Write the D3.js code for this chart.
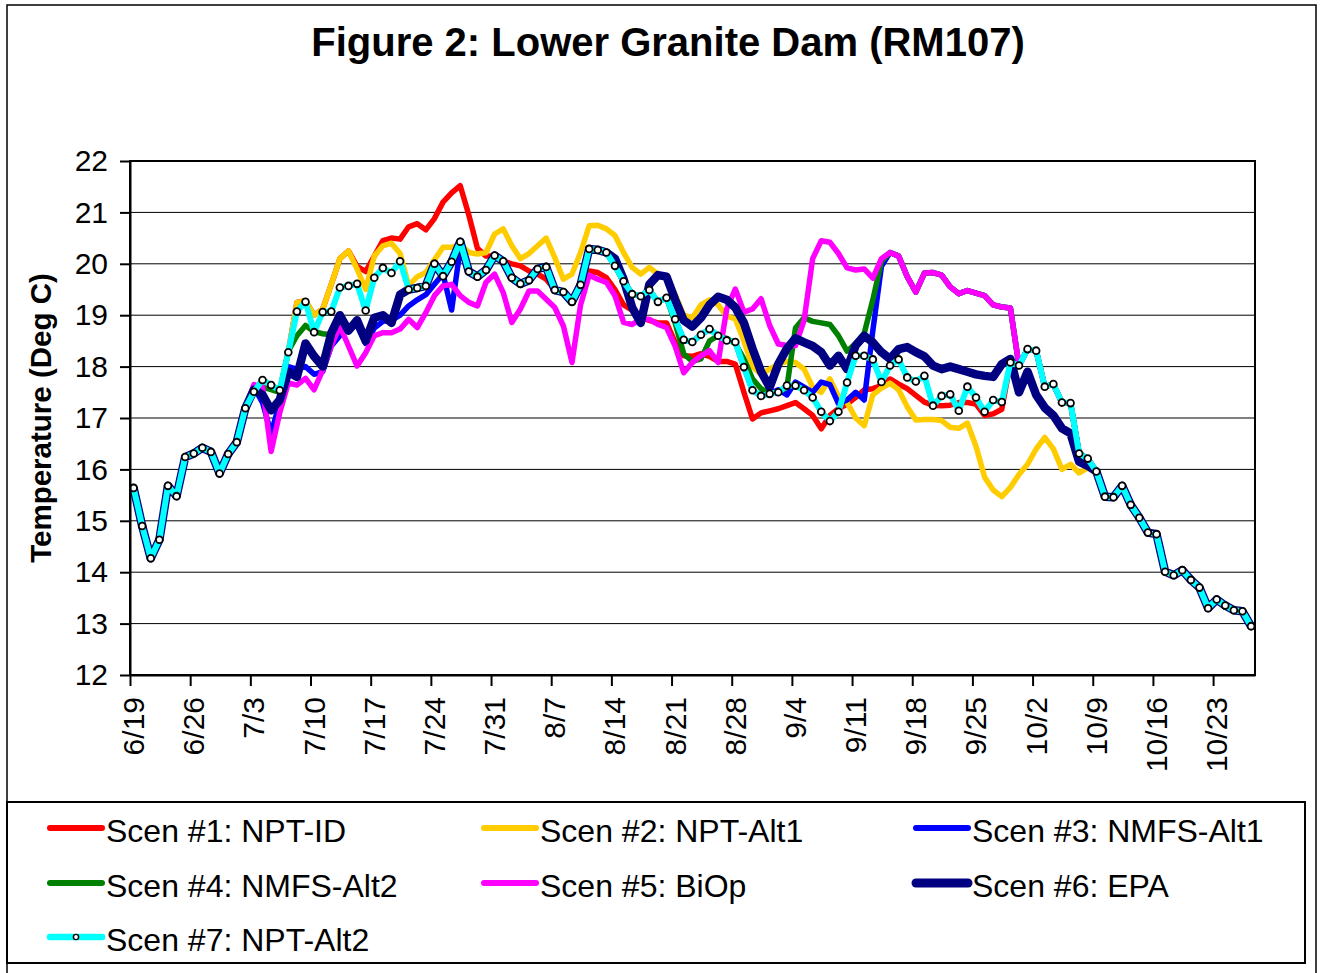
<!DOCTYPE html>
<html>
<head>
<meta charset="utf-8">
<title>Figure 2: Lower Granite Dam (RM107)</title>
<script src="https://cdn.jsdelivr.net/npm/d3@7"></script>
<style>
  body { margin: 0; background: #fff; }
  text { font-family: "Liberation Sans", Arial, sans-serif; fill: #000; }
</style>
</head>
<body>
<div id="chart"></div>
<script>
// x axis: one tick a week
var tickLabels = ["6/19","6/26","7/3","7/10","7/17","7/24","7/31","8/7","8/14","8/21",
                  "8/28","9/4","9/11","9/18","9/25","10/2","10/9","10/16","10/23"];
var yTicks = [12,13,14,15,16,17,18,19,20,21,22];

// daily temperature, deg C
// every run is the same 6/19 - 7/2 and 10/9 - 10/28
var sharedStart = [15.64,14.90,14.27,14.63,15.68,15.48,16.24,16.31,16.42,16.34,15.92,16.30,16.53,17.19];
var sharedEnd = [15.96,15.47,15.46,15.68,15.31,15.06,14.77,14.74,14.01,13.94,
                 14.04,13.85,13.70,13.30,13.47,13.35,13.26,13.24,12.95];

// 7/3 - 10/8 for each run
var scen1 = [17.51,17.74,17.64,17.54,18.28,19.25,19.28,19.00,19.12,19.60,
             20.10,20.25,19.95,19.85,20.15,20.45,20.50,20.48,20.72,20.78,
             20.66,20.88,21.20,21.38,21.52,20.95,20.30,20.15,20.15,20.05,
             20.00,19.96,19.86,19.80,19.70,19.50,19.42,19.28,19.55,19.86,
             19.83,19.73,19.50,19.20,19.10,18.95,18.90,18.85,18.85,18.47,
             18.21,18.20,18.25,18.20,18.10,18.10,18.05,17.50,16.98,17.10,
             17.14,17.18,17.24,17.30,17.18,17.05,16.79,17.05,17.18,17.27,
             17.40,17.55,17.57,17.63,17.76,17.66,17.57,17.44,17.31,17.25,
             17.24,17.25,17.30,17.30,17.27,17.05,17.08,17.17,18.08,18.02,
             18.34,18.31,17.61,17.66,17.30,17.29,16.31,16.21];
var scen2 = [17.51,17.74,17.64,17.54,18.28,19.25,19.28,19.00,19.12,19.60,
             20.10,20.25,19.90,19.50,20.15,20.35,20.40,20.20,19.58,19.75,
             19.83,20.08,20.32,20.32,20.38,20.22,20.19,20.22,20.58,20.68,
             20.35,20.10,20.20,20.35,20.50,20.12,19.70,19.80,20.22,20.74,
             20.75,20.68,20.55,20.22,19.93,19.80,19.93,19.80,19.75,19.40,
             19.00,18.95,19.20,19.30,19.20,18.98,18.93,18.50,18.00,17.85,
             17.95,18.05,18.10,18.08,17.95,17.60,17.50,17.76,17.42,17.30,
             17.00,16.85,17.45,17.58,17.68,17.55,17.22,16.96,16.97,16.97,
             16.95,16.82,16.80,16.90,16.45,15.85,15.60,15.47,15.65,15.90,
             16.10,16.40,16.62,16.40,16.00,16.10,15.93,16.03];
var scen3 = [17.60,17.30,16.70,17.30,18.00,17.95,18.00,17.85,17.90,18.40,
             18.60,18.75,18.80,18.45,18.75,18.88,18.90,19.00,19.18,19.30,
             19.40,19.60,19.80,19.10,20.30,19.85,19.75,19.88,20.16,20.05,
             19.73,19.61,19.68,19.90,19.94,19.49,19.45,19.26,19.59,20.29,
             20.27,20.22,19.96,19.66,19.41,19.37,19.49,19.26,19.34,18.92,
             18.52,18.48,18.62,18.73,18.60,18.51,18.48,17.99,17.54,17.43,
             17.47,17.55,17.45,17.70,17.60,17.50,17.70,17.65,17.28,17.35,
             17.50,17.35,18.70,19.95,20.22,20.15,19.75,19.45,19.82,19.83,
             19.78,19.55,19.42,19.48,19.43,19.38,19.20,19.16,19.14,18.02,
             18.34,18.31,17.61,17.66,17.30,17.29,16.31,16.21];
var scen4 = [17.55,17.60,17.55,17.50,18.30,18.60,18.80,18.68,18.64,18.62,
             19.00,18.70,18.90,18.50,18.95,19.00,18.85,19.40,19.50,19.53,
             19.57,20.00,19.76,20.04,20.43,19.85,19.75,19.88,20.16,20.05,
             19.73,19.61,19.68,19.90,19.94,19.49,19.45,19.26,19.59,20.29,
             20.27,20.22,19.96,19.66,19.41,19.37,19.49,19.26,19.34,18.85,
             18.25,18.10,18.15,18.50,18.60,18.55,18.45,18.15,17.76,17.57,
             17.47,17.50,17.60,18.75,18.95,18.88,18.85,18.82,18.60,18.30,
             18.45,18.65,19.30,20.05,20.22,20.15,19.75,19.45,19.82,19.83,
             19.78,19.55,19.42,19.48,19.43,19.38,19.20,19.16,19.14,18.02,
             18.34,18.31,17.61,17.66,17.30,17.29,16.31,16.21];
var scen5 = [17.65,17.60,16.35,17.10,17.68,17.64,17.77,17.55,17.93,18.40,
             18.79,18.40,18.01,18.27,18.60,18.66,18.66,18.73,18.92,18.76,
             19.05,19.38,19.57,19.60,19.38,19.25,19.18,19.64,19.80,19.44,
             18.86,19.12,19.47,19.47,19.31,19.15,18.79,18.08,19.20,19.78,
             19.70,19.64,19.38,18.86,18.82,18.92,18.92,18.82,18.76,18.40,
             17.88,18.08,18.21,18.31,18.08,19.12,19.51,19.06,19.12,19.32,
             18.80,18.44,18.41,18.41,18.90,20.10,20.45,20.42,20.20,19.92,
             19.88,19.90,19.72,20.10,20.22,20.15,19.75,19.45,19.82,19.83,
             19.78,19.55,19.42,19.48,19.43,19.38,19.20,19.16,19.14,18.02,
             18.34,18.31,17.61,17.66,17.30,17.29,16.31,16.21];
var scen6 = [17.55,17.45,17.15,17.35,17.90,17.80,18.45,18.20,18.00,18.65,
             19.00,18.70,18.90,18.50,18.95,19.00,18.85,19.40,19.50,19.53,
             19.57,20.00,19.76,20.04,20.43,19.85,19.75,19.88,20.16,20.05,
             19.73,19.61,19.68,19.90,19.94,19.49,19.45,19.26,19.59,20.29,
             20.27,20.22,20.10,19.70,19.15,18.85,19.60,19.78,19.75,19.30,
             18.90,18.78,18.95,19.20,19.36,19.30,19.15,18.85,18.35,17.90,
             17.60,18.05,18.35,18.55,18.47,18.40,18.28,18.02,18.21,17.95,
             18.41,18.60,18.47,18.28,18.15,18.34,18.38,18.28,18.20,18.02,
             17.95,18.00,17.95,17.90,17.85,17.82,17.80,18.05,18.15,17.50,
             17.90,17.45,17.20,17.05,16.80,16.70,16.15,16.07];
var scen7 = [17.51,17.74,17.64,17.54,18.28,19.07,19.26,18.67,19.06,19.07,
             19.54,19.57,19.61,19.09,19.73,19.92,19.82,20.05,19.50,19.53,
             19.57,20.00,19.76,20.04,20.43,19.85,19.75,19.88,20.16,20.05,
             19.73,19.61,19.68,19.90,19.94,19.49,19.45,19.26,19.59,20.29,
             20.27,20.22,19.96,19.66,19.41,19.37,19.49,19.26,19.34,18.92,
             18.52,18.48,18.62,18.73,18.60,18.51,18.48,17.99,17.54,17.43,
             17.47,17.50,17.63,17.63,17.54,17.40,17.12,16.94,17.12,17.69,
             18.21,18.21,18.14,17.70,18.02,18.14,17.79,17.71,17.82,17.24,
             17.43,17.46,17.14,17.61,17.40,17.12,17.35,17.31,18.08,18.02,
             18.34,18.31,17.61,17.66,17.30,17.29,16.31,16.21];

var seriesNames = ["Scen #1: NPT-ID","Scen #2: NPT-Alt1","Scen #3: NMFS-Alt1",
                   "Scen #4: NMFS-Alt2","Scen #5: BiOp","Scen #6: EPA","Scen #7: NPT-Alt2"];
var seriesMid = [scen1,scen2,scen3,scen4,scen5,scen6,scen7];

var colors = ["#ff0000","#ffcc00","#0000ff","#008000","#ff00ff","#000080","#00ffff"];
var widths = [5.5,5.5,5.5,5.5,5.5,8.5,6];

function init(){

    var w = 1320;
    var h = 973;
    var left = 130, right = 1255, top = 161, bottom = 675;

    var t0 = new Date(Date.UTC(2001,5,19));

    var x = d3.scaleUtc()
              .domain([t0, d3.utcHour.offset(t0, 3141)])
              .range([left, right]);

    var y = d3.scaleLinear()
              .domain([12,22])
              .range([bottom, top]);

    var tickDates = tickLabels.map(function(s){
        var p = s.split("/");
        return new Date(Date.UTC(2001, +p[0]-1, +p[1]));
    });

    // each reading plotted at 10:00 of its day
    var series = seriesMid.map(function(mid, k){
        var vals = sharedStart.concat(mid, sharedEnd);
        return {
            name: seriesNames[k],
            points: vals.map(function(v,i){
                return {date: d3.utcHour.offset(t0, i*24+10), value: v};
            })
        };
    });

    var svg = d3.select("#chart")
                .append("svg")
                .attr("width",w)
                .attr("height",h);

    svg.append("rect")
       .attr("width",w).attr("height",h)
       .attr("fill","#fff");

    // outer frame
    svg.append("rect")
       .attr("x",7).attr("y",5)
       .attr("width",1309).attr("height",990)
       .attr("fill","none")
       .attr("stroke","#000")
       .attr("stroke-width",1.5);

    svg.append("text")
       .attr("x",668).attr("y",56)
       .attr("text-anchor","middle")
       .attr("font-size",40)
       .attr("font-weight","bold")
       .text("Figure 2: Lower Granite Dam (RM107)");

    // grid
    svg.append("g")
       .selectAll("line")
       .data(yTicks)
       .enter()
       .append("line")
       .attr("x1",left).attr("x2",right)
       .attr("y1",function(d){ return y(d); })
       .attr("y2",function(d){ return y(d); })
       .attr("stroke","#000")
       .attr("stroke-width",1);

    var line = d3.line()
                 .x(function(d){ return x(d.date); })
                 .y(function(d){ return y(d.value); });

    var lines = svg.append("g");
    series.forEach(function(s,k){
        lines.append("path")
             .datum(s.points)
             .attr("fill","none")
             .attr("stroke",colors[k])
             .attr("stroke-width",widths[k])
             .attr("stroke-linejoin","round")
             .attr("stroke-linecap","round")
             .attr("d",line);
    });

    lines.selectAll("circle")
         .data(series[6].points)
         .enter()
         .append("circle")
         .attr("cx",function(d){ return x(d.date); })
         .attr("cy",function(d){ return y(d.value); })
         .attr("r",3.4)
         .attr("fill","#fff")
         .attr("stroke","#000")
         .attr("stroke-width",1.8);

    // plot border
    svg.append("rect")
       .attr("x",left).attr("y",top)
       .attr("width",right-left).attr("height",bottom-top)
       .attr("fill","none")
       .attr("stroke","#000")
       .attr("stroke-width",2);

    var yAxis = svg.append("g")
                   .attr("transform","translate("+left+",0)")
                   .call(d3.axisLeft(y).tickValues(yTicks).tickSize(10).tickSizeOuter(0).tickPadding(12));

    var xAxis = svg.append("g")
                   .attr("transform","translate(0,"+bottom+")")
                   .call(d3.axisBottom(x).tickValues(tickDates).tickSize(11).tickSizeOuter(0)
                          .tickFormat(function(d,i){ return tickLabels[i]; }));

    [yAxis,xAxis].forEach(function(g){
        g.attr("font-family",null).attr("font-size",null);
        g.select(".domain").attr("stroke-width",2);
        g.selectAll(".tick line").attr("stroke-width",2);
        g.selectAll("text").attr("font-size",30).attr("fill","#000");
    });

    xAxis.selectAll("text")
         .attr("transform","rotate(-90)")
         .attr("x",-22)
         .attr("y",0)
         .attr("dy","0.45em")
         .attr("text-anchor","end");

    svg.append("text")
       .attr("transform","translate(51,418) rotate(-90)")
       .attr("text-anchor","middle")
       .attr("font-size",29.5)
       .attr("font-weight","bold")
       .text("Temperature (Deg C)");

    // legend
    var legendBox = svg.append("g");
    legendBox.append("rect")
       .attr("x",7).attr("y",802)
       .attr("width",1298).attr("height",161)
       .attr("fill","#fff")
       .attr("stroke","#000")
       .attr("stroke-width",2);

    var colX = [50,484,916];
    var rowY = [828,883,937];

    var items = legendBox.selectAll("g.item")
                         .data(series)
                         .enter()
                         .append("g")
                         .attr("class","item")
                         .attr("transform",function(d,i){
                             return "translate("+colX[i%3]+","+rowY[Math.floor(i/3)]+")";
                         });

    items.append("line")
         .attr("x1",0).attr("x2",52)
         .attr("stroke",function(d,i){ return colors[i]; })
         .attr("stroke-width",function(d,i){ return widths[i]+0.5; })
         .attr("stroke-linecap","round");

    items.filter(function(d,i){ return i==6; })
         .append("circle")
         .attr("cx",26).attr("r",2.6)
         .attr("fill","#fff")
         .attr("stroke","#000")
         .attr("stroke-width",1.4);

    items.append("text")
         .attr("x",56).attr("y",14)
         .attr("font-size",32)
         .text(function(d){ return d.name; });

}

window.onload = init;
</script>
</body>
</html>
